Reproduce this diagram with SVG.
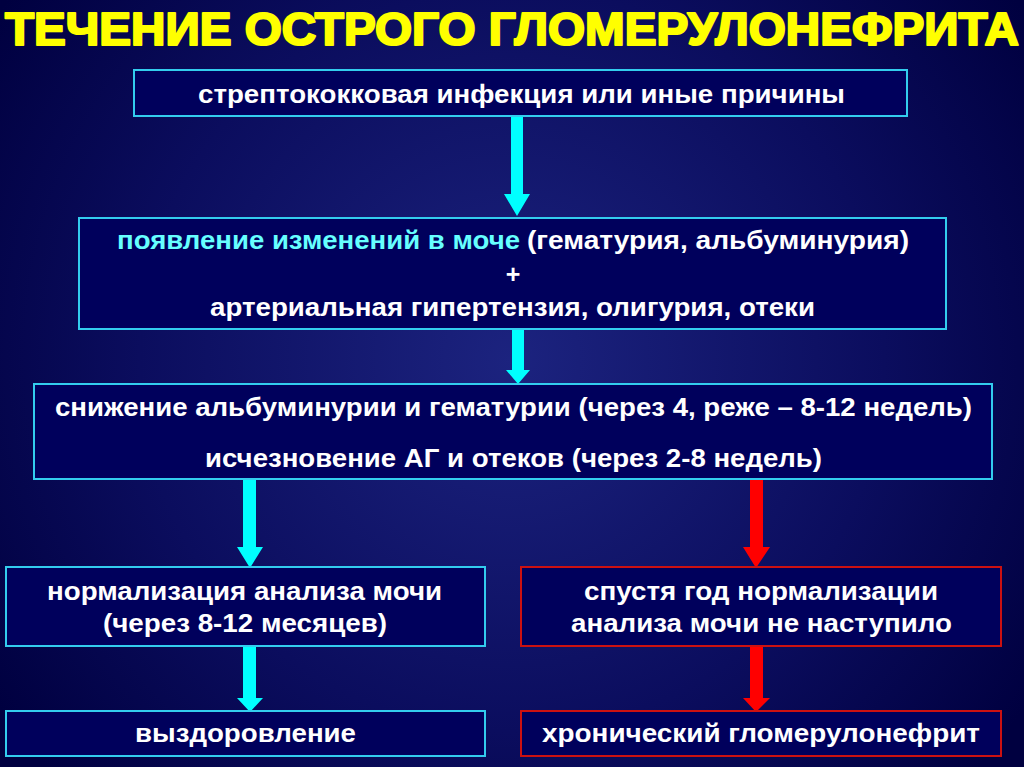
<svg xmlns="http://www.w3.org/2000/svg" width="1024" height="767" viewBox="0 0 1024 767">
  <defs>
    <radialGradient id="bg" cx="512" cy="360" r="620" gradientUnits="userSpaceOnUse">
      <stop offset="0" stop-color="#1c237f"/>
      <stop offset="0.6" stop-color="#0b0d5e"/>
      <stop offset="1" stop-color="#000040"/>
    </radialGradient>
    <style>
      .box { fill: #00005c; stroke: #33ccee; stroke-width: 2; }
      .rbox { fill: #00005c; stroke: #cc1111; stroke-width: 2; }
      .t { font-family: "Liberation Sans", Arial, sans-serif; font-weight: bold; font-size: 25px; fill: #ffffff; }
      .c { fill: #66ffff; }
      .title { font-family: "Liberation Sans", Arial, sans-serif; font-weight: bold; font-size: 46px; fill: #ffff00; stroke: #ffff00; stroke-width: 2.2; stroke-linejoin: round; }
      .ca { fill: #00ffff; }
      .ra { fill: #ff0000; }
    </style>
  </defs>
  <rect x="0" y="0" width="1024" height="767" fill="url(#bg)"/>

  <text class="title" x="5" y="45" textLength="1014" lengthAdjust="spacingAndGlyphs">ТЕЧЕНИЕ ОСТРОГО ГЛОМЕРУЛОНЕФРИТА</text>

  <g id="connectors">
    <polygon class="ca" points="511,116 523,116 523,194 530,194 517,216 504,194 511,194"/>
    <polygon class="ca" points="512,330 524,330 524,370 530,370 518,384 506,370 512,370"/>
    <polygon class="ca" points="243,480 256,480 256,547 263,547 250,568 237,547 243,547"/>
    <polygon class="ra" points="750,480 763,480 763,547 770,547 756,568 743,547 750,547"/>
    <polygon class="ca" points="243,646 256,646 256,698 263,698 250,712 237,698 243,698"/>
    <polygon class="ra" points="750,646 763,646 763,698 770,698 756,712 743,698 750,698"/>
  </g>

  <g id="n1">
    <rect class="box" x="134" y="70" width="773" height="46"/>
    <text class="t" x="198" y="103" textLength="647" lengthAdjust="spacingAndGlyphs">стрептококковая инфекция или иные причины</text>
  </g>

  <g id="n2">
    <rect class="box" x="79" y="218" width="867" height="111"/>
    <text class="t c" x="117" y="249" textLength="403" lengthAdjust="spacingAndGlyphs">появление изменений в моче</text>
    <text class="t" x="527" y="249" textLength="382" lengthAdjust="spacingAndGlyphs">(гематурия, альбуминурия)</text>
    <text class="t" x="513" y="283" text-anchor="middle">+</text>
    <text class="t" x="210" y="316" textLength="605" lengthAdjust="spacingAndGlyphs">артериальная гипертензия, олигурия, отеки</text>
  </g>

  <g id="n3">
    <rect class="box" x="34" y="384" width="958" height="95"/>
    <text class="t" x="55" y="416" textLength="917" lengthAdjust="spacingAndGlyphs">снижение альбуминурии и гематурии (через 4, реже – 8-12 недель)</text>
    <text class="t" x="205" y="467" textLength="617" lengthAdjust="spacingAndGlyphs">исчезновение АГ и отеков (через 2-8 недель)</text>
  </g>

  <g id="n4">
    <rect class="box" x="6" y="567" width="479" height="79"/>
    <text class="t" x="47" y="600" textLength="395" lengthAdjust="spacingAndGlyphs">нормализация анализа мочи</text>
    <text class="t" x="103" y="632" textLength="284" lengthAdjust="spacingAndGlyphs">(через 8-12 месяцев)</text>
  </g>

  <g id="n5">
    <rect class="rbox" x="521" y="567" width="480" height="79"/>
    <text class="t" x="584" y="600" textLength="354" lengthAdjust="spacingAndGlyphs">спустя год нормализации</text>
    <text class="t" x="571" y="632" textLength="381" lengthAdjust="spacingAndGlyphs">анализа мочи не наступило</text>
  </g>

  <g id="n6">
    <rect class="box" x="6" y="711" width="479" height="45"/>
    <text class="t" x="135" y="742" textLength="221" lengthAdjust="spacingAndGlyphs">выздоровление</text>
  </g>

  <g id="n7">
    <rect class="rbox" x="521" y="711" width="480" height="45"/>
    <text class="t" x="542" y="742" textLength="438" lengthAdjust="spacingAndGlyphs">хронический гломерулонефрит</text>
  </g>
</svg>
